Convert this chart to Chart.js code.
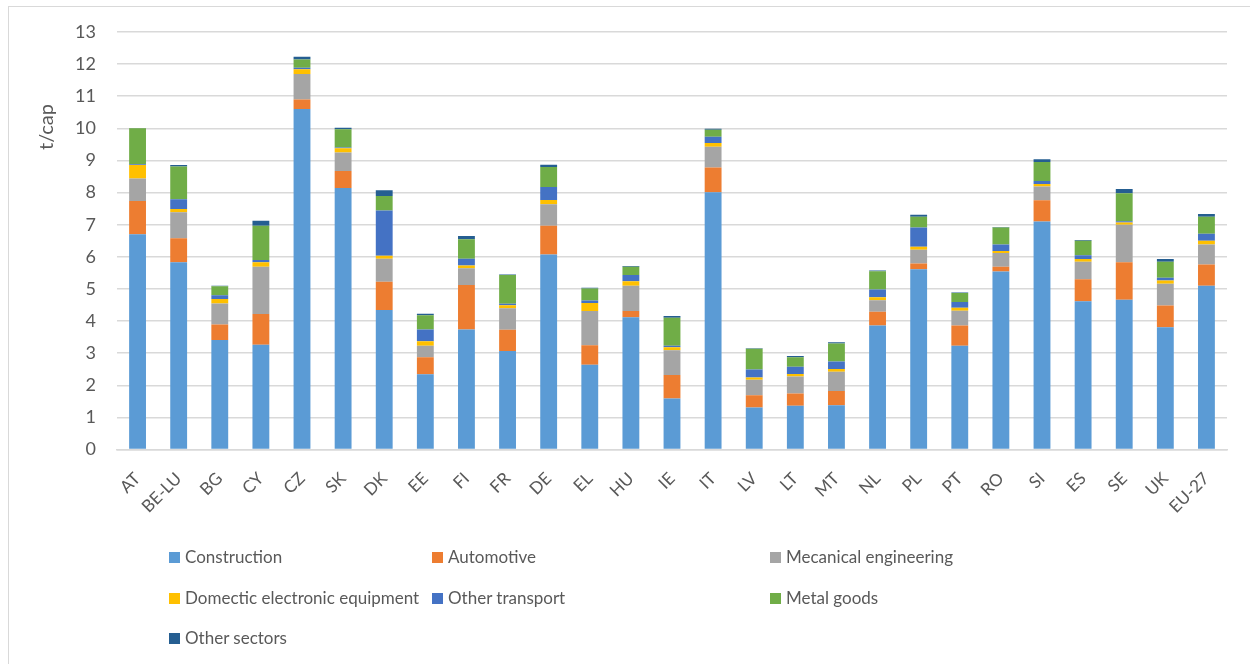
<!DOCTYPE html>
<html>
<head>
<meta charset="utf-8">
<script src="https://cdn.jsdelivr.net/npm/chart.js@4"></script>
<style>
  body { margin: 0; background: #fff; }
  #wrap { position: relative; width: 1250px; height: 664px; overflow: hidden; }
  #frame { position: absolute; left: 8px; top: 6px; width: 1280px; height: 700px; border: 1px solid #d9d9d9; }
  #myChart { position: absolute; left: 0; top: 0; }
  .lg { position: absolute; font: 17px Lato, sans-serif; color: #595959; white-space: nowrap; line-height: 20px; }
  .lg i { display: inline-block; width: 11px; height: 11px; margin-right: 5px; vertical-align: 0px; }
</style>
</head>
<body>
<div id="wrap">
  <div id="frame"></div>
  <canvas id="myChart" width="1250" height="664"></canvas>
  <div id="legend"></div>
</div>
<script>
var countries = ['AT','BE-LU','BG','CY','CZ','SK','DK','EE','FI','FR','DE','EL','HU','IE','IT','LV','LT','MT','NL','PL','PT','RO','SI','ES','SE','UK','EU-27'];

var construction = [6.70,5.83,3.41,3.26,10.60,8.14,4.34,2.34,3.74,3.07,6.07,2.64,4.12,1.59,8.01,1.31,1.36,1.38,3.86,5.61,3.23,5.54,7.10,4.62,4.66,3.81,5.10];
var automotive   = [1.04,0.75,0.48,0.96,0.30,0.53,0.88,0.53,1.38,0.66,0.90,0.61,0.19,0.73,0.77,0.38,0.38,0.44,0.43,0.18,0.63,0.15,0.66,0.68,1.17,0.67,0.66];
var mecanical    = [0.70,0.81,0.66,1.47,0.79,0.58,0.72,0.36,0.52,0.67,0.67,1.06,0.79,0.77,0.65,0.48,0.53,0.60,0.36,0.43,0.46,0.43,0.43,0.55,1.17,0.68,0.62];
var domestic     = [0.42,0.10,0.14,0.14,0.15,0.13,0.09,0.14,0.09,0.09,0.13,0.25,0.14,0.09,0.11,0.07,0.08,0.09,0.09,0.09,0.09,0.06,0.08,0.08,0.07,0.10,0.12];
var otherTransport = [0.02,0.30,0.11,0.07,0.05,0.02,1.41,0.37,0.21,0.05,0.40,0.08,0.19,0.05,0.20,0.25,0.23,0.23,0.24,0.60,0.18,0.20,0.09,0.12,0.04,0.09,0.22];
var metalGoods   = [1.12,1.02,0.28,1.07,0.25,0.57,0.45,0.44,0.61,0.89,0.63,0.37,0.26,0.87,0.22,0.65,0.29,0.56,0.57,0.34,0.28,0.53,0.59,0.45,0.87,0.50,0.53];
var otherSectors = [0.01,0.05,0.02,0.15,0.09,0.05,0.18,0.05,0.10,0.02,0.07,0.03,0.02,0.06,0.03,0.01,0.04,0.04,0.02,0.06,0.02,0.02,0.09,0.02,0.13,0.08,0.08];

var seriesNames = ['Construction','Automotive','Mecanical engineering','Domectic electronic equipment','Other transport','Metal goods','Other sectors'];
var seriesColors = ['#5B9BD5','#ED7D31','#A5A5A5','#FFC000','#4472C4','#70AD47','#255E91'];
var seriesData = [construction, automotive, mecanical, domestic, otherTransport, metalGoods, otherSectors];

Chart.defaults.font.family = 'Lato, sans-serif';
Chart.defaults.color = '#595959';

// y title sits near the top in the original, so draw it by hand
var yTitle = {
  id: 'yTitle',
  afterDraw: function (chart) {
    var c = chart.ctx;
    c.save();
    c.translate(47, 127);
    c.rotate(-Math.PI / 2);
    c.font = '20px Lato, sans-serif';
    c.fillStyle = '#595959';
    c.textAlign = 'center';
    c.textBaseline = 'middle';
    c.fillText('t/cap', 0, 0);
    c.restore();
  }
};

var ctx = document.getElementById('myChart').getContext('2d');
var chart = new Chart(ctx, {
  type: 'bar',
  data: {
    labels: countries,
    datasets: seriesNames.map(function (n, i) {
      return {
        label: n,
        data: seriesData[i],
        backgroundColor: seriesColors[i],
        borderWidth: 0,
        categoryPercentage: 1,
        barPercentage: 0.41
      };
    })
  },
  options: {
    responsive: false,
    animation: false,
    layout: { padding: { left: 0, right: 23, top: 32, bottom: 114.5 } },
    plugins: { legend: { display: false }, tooltip: { enabled: false } },
    scales: {
      x: {
        stacked: true,
        grid: { display: false },
        border: { color: '#d9d9d9', width: 1.5 },
        ticks: { font: { size: 17 }, maxRotation: 45, minRotation: 45, padding: 11, autoSkip: false },
        afterFit: function (s) { s.height = 100; }
      },
      y: {
        stacked: true,
        min: 0,
        max: 13,
        border: { display: false },
        grid: { color: '#d9d9d9', lineWidth: 1.5, drawTicks: false },
        ticks: { stepSize: 1, font: { size: 18 }, padding: 21 },
        afterFit: function (s) { s.width = 117; }
      }
    }
  },
  plugins: [yTitle]
});

// legend laid out in three columns like the original
var cols = [169, 432, 770];
var rows = [547, 588, 628];
var lg = document.getElementById('legend');
chart.data.datasets.forEach(function (ds, i) {
  var d = document.createElement('div');
  d.className = 'lg';
  d.style.left = cols[i % 3] + 'px';
  d.style.top = rows[Math.floor(i / 3)] + 'px';
  d.innerHTML = '<i style="background:' + ds.backgroundColor + '"></i>' + ds.label;
  lg.appendChild(d);
});
</script>
</body>
</html>
